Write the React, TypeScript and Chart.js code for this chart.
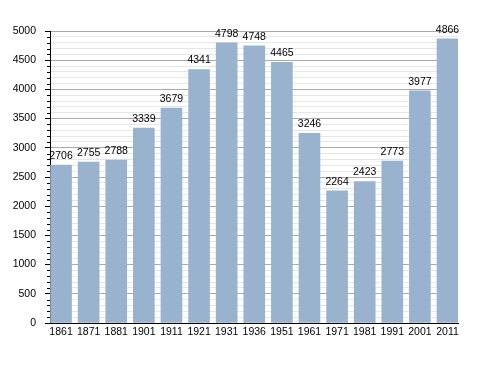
import React, { useEffect, useRef } from "react";
import { Chart, registerables } from "chart.js";

Chart.register(...registerables);

const categories = ["1861", "1871", "1881", "1901", "1911", "1921", "1931", "1936", "1951", "1961", "1971", "1981", "1991", "2001", "2011"];
const populations = [2706, 2755, 2788, 3339, 3679, 4341, 4798, 4748, 4465, 3246, 2264, 2423, 2773, 3977, 4866];
const yMax = 5000;
const majorStep = 500;
const minorStep = 100;

const valueLabels = {
  id: "valueLabels",
  afterDatasetsDraw(chart: any) {
    const ctx = chart.ctx;
    const meta = chart.getDatasetMeta(0);
    ctx.save();
    ctx.font = "10.5px 'Liberation Sans', Arial, sans-serif";
    ctx.fillStyle = "#000";
    ctx.textAlign = "center";
    ctx.textBaseline = "alphabetic";
    meta.data.forEach((bar: any, i: number) => {
      ctx.fillText(String(populations[i]), bar.x, bar.y - 6);
    });
    ctx.restore();
  },
};

const minorTicks = {
  id: "minorTicks",
  afterDraw(chart: any) {
    const ctx = chart.ctx;
    const y = chart.scales.y;
    const left = chart.chartArea.left;
    ctx.save();
    ctx.strokeStyle = "#000";
    ctx.lineWidth = 1;
    y.ticks.forEach((t: any) => {
      if (t.value % majorStep !== 0) {
        const py = Math.round(y.getPixelForValue(t.value)) + 0.5;
        ctx.beginPath();
        ctx.moveTo(left - 3, py);
        ctx.lineTo(left, py);
        ctx.stroke();
      }
    });
    ctx.restore();
  },
};

export default function App() {
  const ref = useRef<HTMLCanvasElement | null>(null);
  useEffect(() => {
    if (!ref.current) return;
    const chart = new Chart(ref.current, {
      type: "bar",
      data: {
        datasets: [
          {
            data: populations.map((v, i) => ({ x: i, y: v })),
            backgroundColor: "#99b3cf",
            borderWidth: 0,
            barThickness: 21,
            categoryPercentage: 1,
          },
        ],
      },
      options: {
        responsive: false,
        animation: false,
        events: [],
        layout: { padding: { left: 0, right: 30, top: 31, bottom: 30 } },
        plugins: { legend: { display: false }, tooltip: { enabled: false } },
        font: { family: "'Liberation Sans', Arial, sans-serif", size: 10 },
        scales: {
          x: {
            type: "linear",
            offset: false,
            min: -0.4,
            max: 14.38,
            afterBuildTicks: (scale: any) => {
              scale.ticks = categories.map((_, i) => ({ value: i }));
            },
            afterFit: (scale: any) => {
              scale.height = 20;
            },
            grid: { display: false, drawTicks: false, offset: false },
            border: { color: "#000", width: 1 },
            ticks: {
              autoSkip: false,
              maxRotation: 0,
              padding: 3,
              color: "#000",
              font: { family: "'Liberation Sans', Arial, sans-serif", size: 10.5 },
              callback: (v: any) => categories[v] ?? "",
            },
          },
          y: {
            min: 0,
            max: yMax,
            afterFit: (scale: any) => {
              scale.width = 50;
            },
            grid: {
              color: (c: any) => (c.tick && c.tick.value % majorStep === 0 ? "#aaaaaa" : "#e6e6e6"),
              tickColor: (c: any) => (c.tick && c.tick.value % majorStep === 0 ? "#000" : "rgba(0,0,0,0)"),
              tickLength: 5,
            },
            border: { color: "#000", width: 1 },
            ticks: {
              stepSize: minorStep,
              autoSkip: false,
              padding: 9,
              color: "#000",
              font: { family: "'Liberation Sans', Arial, sans-serif", size: 10.5 },
              callback: (v: any) => (v % majorStep === 0 ? String(v) : ""),
            },
          },
        },
      },
      plugins: [valueLabels, minorTicks],
    });
    return () => chart.destroy();
  }, []);
  return (
    <div style={{ position: "absolute", left: 0, top: 0, width: 488, height: 373, background: "#fff" }}>
      <canvas ref={ref} width={488} height={373} />
    </div>
  );
}
